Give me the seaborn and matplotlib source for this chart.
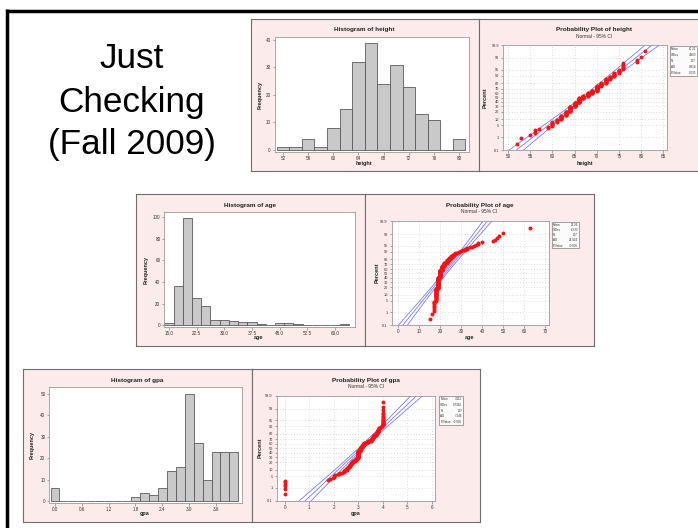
import numpy as np
import pandas as pd
import matplotlib
matplotlib.use("Agg")
import matplotlib.pyplot as plt
import seaborn as sns
from statistics import NormalDist
from matplotlib.patches import Rectangle
from matplotlib.lines import Line2D

sns.set_theme(style="white")
plt.rcParams["font.family"] = ["Liberation Sans", "DejaVu Sans"]

# ---------------- survey data (value -> number of students) ----------------
height_values = [52, 53, 55, 56, 57, 59, 60, 61, 62, 63, 64, 65, 66, 67, 68,
                 69, 70, 71, 72, 73, 74, 75, 76, 79, 80, 81]
height_counts = [1, 1, 1, 3, 1, 2, 6, 5, 10, 12, 20, 17, 22, 10, 14,
                 11, 20, 10, 13, 6, 7, 5, 6, 2, 1, 1]

age_values = [15, 16, 17, 18, 19, 20, 21, 22, 23, 24, 25, 26, 27, 28, 29, 30,
              31, 32, 33, 34, 35, 36, 37, 38, 40, 45, 46, 47, 48, 50, 63]
age_counts = [1, 1, 8, 28, 45, 35, 19, 14, 11, 7, 6, 5, 3, 2, 2, 2,
              1, 2, 2, 1, 1, 1, 1, 2, 1, 1, 1, 1, 1, 1, 1]

gpa_values = [0.00, 1.75, 1.85, 1.95, 2.00, 2.05, 2.15, 2.20, 2.25, 2.32, 2.40,
              2.45, 2.52, 2.55, 2.60, 2.67, 2.72, 2.75, 2.80, 2.85, 2.92, 2.95,
              3.00, 3.05, 3.12, 3.15, 3.20, 3.25, 3.32, 3.35, 3.40, 3.45, 3.52,
              3.55, 3.60, 3.65, 3.72, 3.75, 3.80, 3.85, 3.92, 3.96, 4.00]
gpa_counts = [6, 1, 1, 1, 2, 1, 1, 1, 1, 1, 3,
              2, 3, 2, 5, 4, 4, 3, 5, 4, 4, 4,
              30, 12, 8, 5, 8, 6, 3, 2, 3, 2, 6,
              5, 7, 5, 6, 5, 7, 5, 2, 2, 19]

# histogram bin edges and tick labels
height_bins = [51 + 2 * k for k in range(16)]
height_hist_ticks = [52, 56, 60, 64, 68, 72, 76, 80]
age_bins = [13.75 + 2.5 * k for k in range(21)]
age_hist_ticks = [15.0, 22.5, 30.0, 37.5, 45.0, 52.5, 60.0]
gpa_bins = [round(-0.1 + 0.2 * k, 2) for k in range(22)]
gpa_hist_ticks = [0.0, 0.6, 1.2, 1.8, 2.4, 3.0, 3.6]

height_prob_ticks = [50, 55, 60, 65, 70, 75, 80, 85]
age_prob_ticks = [0, 10, 20, 30, 40, 50, 60, 70]
gpa_prob_ticks = [0, 1, 2, 3, 4, 5, 6]
percent_ticks = [0.1, 1, 5, 10, 20, 30, 40, 50, 60, 70, 80, 90, 95, 99, 99.9]
percent_labels = ["0.1", "1", "5", "10", "20", "30", "40", "50", "60", "70",
                  "80", "90", "95", "99", "99.9"]

# ---------------- styling ----------------
W, H = 698, 528
PINK = "#fcebeb"
PANEL_EDGE = "#6e6e6e"
FRAME = "#9a9a9a"
BAR = "#c9c9c9"
BAR_EDGE = "#5a5a5a"
BLUE = "#6b6bff"
GRID = "#bdbdbd"
ND = NormalDist()

fig = plt.figure(figsize=(W / 100, H / 100), dpi=100)


def box(l, t, r, b):
    return [l / W, 1 - b / H, (r - l) / W, (b - t) / H]


def panel(l, t, r, b):
    a = fig.add_axes(box(l, t, r, b))
    a.set_xlim(l, r)
    a.set_ylim(b, t)
    a.set_facecolor(PINK)
    a.set_xticks([])
    a.set_yticks([])
    for s in a.spines.values():
        s.set_color(PANEL_EDGE)
        s.set_linewidth(0.8)
    return a


def inner(l, t, r, b):
    a = fig.add_axes(box(l, t, r, b))
    a.set_facecolor("white")
    for s in a.spines.values():
        s.set_color(FRAME)
        s.set_linewidth(0.6)
    a.tick_params(axis="both", which="both", labelsize=3.3, length=1.8,
                  width=0.4, pad=1, colors="#666666", labelcolor="#333333",
                  direction="out", bottom=True, left=True)
    return a


def place_labels(a, xlabel, ylabel, xl_pos, yl_pos):
    a.set_xlabel(xlabel, fontsize=4, fontweight="bold", color="#222222")
    a.set_ylabel(ylabel, fontsize=4, fontweight="bold", color="#222222")
    a.xaxis.set_label_coords(xl_pos[0] / W, 1 - xl_pos[1] / H,
                             transform=fig.transFigure)
    a.yaxis.set_label_coords(yl_pos[0] / W, 1 - yl_pos[1] / H,
                             transform=fig.transFigure)
    a.xaxis.label.set_va("center")
    a.yaxis.label.set_va("center")


def histogram(pan, frame, values, counts, bins, ticks, yticks, xlim, ylim,
              title, title_y, xlabel, xl_pos, yl_pos, fmt):
    a = inner(*frame)
    df = pd.DataFrame({"value": values, "count": counts})
    sns.histplot(data=df, x="value", weights="count", bins=bins, ax=a,
                 color=BAR, edgecolor=BAR_EDGE, linewidth=0.6, alpha=1)
    a.set_xlim(*xlim)
    a.set_ylim(*ylim)
    a.set_xticks(ticks)
    a.set_xticklabels([fmt.format(t) for t in ticks])
    a.set_yticks(yticks)
    pl, pr = pan.get_xlim()
    pan.text((pl + pr) / 2, title_y, title, ha="center", va="center",
             fontsize=4.6, fontweight="bold", color="#222222")
    place_labels(a, xlabel, "Frequency", xl_pos, yl_pos)
    return a


def anderson_darling(x, mu, sd):
    n = len(x)
    dist = NormalDist(mu, sd)
    F = np.clip(np.array([dist.cdf(v) for v in x]), 1e-12, 1 - 1e-12)
    i = np.arange(1, n + 1)
    ad = -n - np.sum((2 * i - 1) * (np.log(F) + np.log(1 - F[::-1]))) / n
    a = ad * (1 + 0.75 / n + 2.25 / n ** 2)
    if a >= 0.6:
        p = np.exp(1.2937 - 5.709 * a + 0.0186 * a ** 2)
    elif a >= 0.34:
        p = np.exp(0.9177 - 4.279 * a - 1.38 * a ** 2)
    elif a >= 0.2:
        p = 1 - np.exp(-8.318 + 42.796 * a - 59.938 * a ** 2)
    else:
        p = 1 - np.exp(-13.436 + 101.14 * a - 223.73 * a ** 2)
    return ad, p


def probability_plot(pan, frame, values, counts, xticks, xlim, title, title_y,
                     xlabel, xl_pos, yl_pos, legend_box):
    a = inner(*frame)
    data = np.sort(np.repeat(np.asarray(values, float), counts))
    n = len(data)
    pos = (np.arange(1, n + 1) - 0.3) / (n + 0.4)
    z = np.array([ND.inv_cdf(p) for p in pos])
    mu, sd = data.mean(), data.std(ddof=1)

    zt = [ND.inv_cdf(p / 100) for p in percent_ticks]
    zz = np.linspace(zt[0] - 0.2, zt[-1] + 0.2, 200)
    fit = mu + sd * zz
    half = 1.96 * sd * np.sqrt((1 + zz ** 2 / 2) / n)
    for line in (fit - half, fit, fit + half):
        a.plot(line, zz, color=BLUE, lw=0.55, zorder=2)
    sns.scatterplot(x=data, y=z, ax=a, color="#ff1010", s=8, linewidth=0,
                    zorder=4)

    a.set_xlim(*xlim)
    a.set_ylim(zt[0], zt[-1])
    a.set_xticks(xticks)
    a.set_yticks(zt)
    a.set_yticklabels(percent_labels)
    a.tick_params(axis="y", labelsize=2.8)
    a.grid(True, linestyle=(0, (1, 3)), color=GRID, linewidth=0.5, zorder=0)
    a.set_axisbelow(True)

    pl, pr = pan.get_xlim()
    cx = (pl + pr) / 2
    pan.text(cx, title_y, title, ha="center", va="center", fontsize=4.6,
             fontweight="bold", color="#222222")
    pan.text(cx, title_y + 6, "Normal - 95% CI", ha="center", va="center",
             fontsize=3.5, color="#333333")
    place_labels(a, xlabel, "Percent", xl_pos, yl_pos)

    ad, p = anderson_darling(data, mu, sd)
    pval = "<0.005" if p < 0.005 else f"{p:.3f}"
    rows = [("Mean", f"{mu:.4g}"), ("StDev", f"{sd:.4g}"), ("N", f"{n}"),
            ("AD", f"{ad:.3f}"), ("P-Value", pval)]
    l, t, r, b = legend_box
    pan.add_patch(Rectangle((l, t), r - l, b - t, facecolor="#fbfbfb",
                            edgecolor="#7a7a7a", lw=0.5, zorder=3))
    step = (b - t) / 5
    for k, (lab, val) in enumerate(rows):
        yy = t + step * (k + 0.55)
        pan.text(l + 1.0, yy, lab, ha="left", va="center", fontsize=2.2,
                 color="#333333", clip_on=True, zorder=4)
        pan.text(r - 1.0, yy, val, ha="right", va="center", fontsize=2.2,
                 color="#333333", clip_on=True, zorder=4)
    return a


# ---------------- slide frame and heading ----------------
fig.add_artist(Line2D([6 / W, 1.0], [1 - 10.5 / H, 1 - 10.5 / H],
                      color="black", lw=2.5, solid_capstyle="butt"))
fig.add_artist(Line2D([7 / W, 7 / W], [1 - 9 / H, 0.0],
                      color="black", lw=2.5, solid_capstyle="butt"))
for text, y in (("Just", 68), ("Checking", 112), ("(Fall 2009)", 154)):
    fig.text(132 / W, 1 - y / H, text, ha="center", va="baseline",
             fontsize=25.3, color="black")

# ---------------- height ----------------
p = panel(250.7, 19, 478.6, 171)
histogram(p, (274.7, 37.3, 468.8, 152.3), height_values, height_counts,
          height_bins, height_hist_ticks, [0, 10, 20, 30, 40],
          (50.68, 81.54), (-0.85, 40.9), "Histogram of height", 30,
          "height", (364, 163), (260, 95), "{:g}")

p = panel(478.6, 19, 710, 171)
probability_plot(p, (503, 45, 666.5, 150), height_values, height_counts,
                 height_prob_ticks, (48.86, 85.75),
                 "Probability Plot of height", 30, "height", (585, 163),
                 (485, 98), (670, 45.7, 697, 76))

# ---------------- age ----------------
p = panel(135.8, 194, 365, 346)
histogram(p, (164.3, 212, 355, 327), age_values, age_counts, age_bins,
          age_hist_ticks, [0, 20, 40, 60, 80, 100], (13.73, 65.42),
          (-1.5, 104.6), "Histogram of age", 205, "age", (259, 338),
          (146, 270), "{:.1f}")

p = panel(365, 194, 593.5, 346)
probability_plot(p, (391.7, 221.3, 549.3, 325.3), age_values, age_counts,
                 age_prob_ticks, (-3.2, 72.1), "Probability Plot of age",
                 205.3, "age", (470, 338), (376.7, 273),
                 (552, 221.7, 579, 248))

# ---------------- gpa ----------------
p = panel(23, 369, 252, 522)
histogram(p, (49.3, 387.3, 241.7, 503), gpa_values, gpa_counts, gpa_bins,
          gpa_hist_ticks, [0, 10, 20, 30, 40, 50], (-0.127, 4.175),
          (-0.8, 53.1), "Histogram of gpa", 380.7, "gpa", (145, 514),
          (31.7, 445), "{:.1f}")

p = panel(252, 369, 480, 522)
probability_plot(p, (276.7, 395.7, 435, 500.7), gpa_values, gpa_counts,
                 gpa_prob_ticks, (-0.34, 6.14), "Probability Plot of gpa",
                 380.7, "gpa", (356, 513), (260, 448),
                 (439.3, 396.3, 463.3, 424.7))

fig.savefig("out.png", dpi=100, facecolor="white")
